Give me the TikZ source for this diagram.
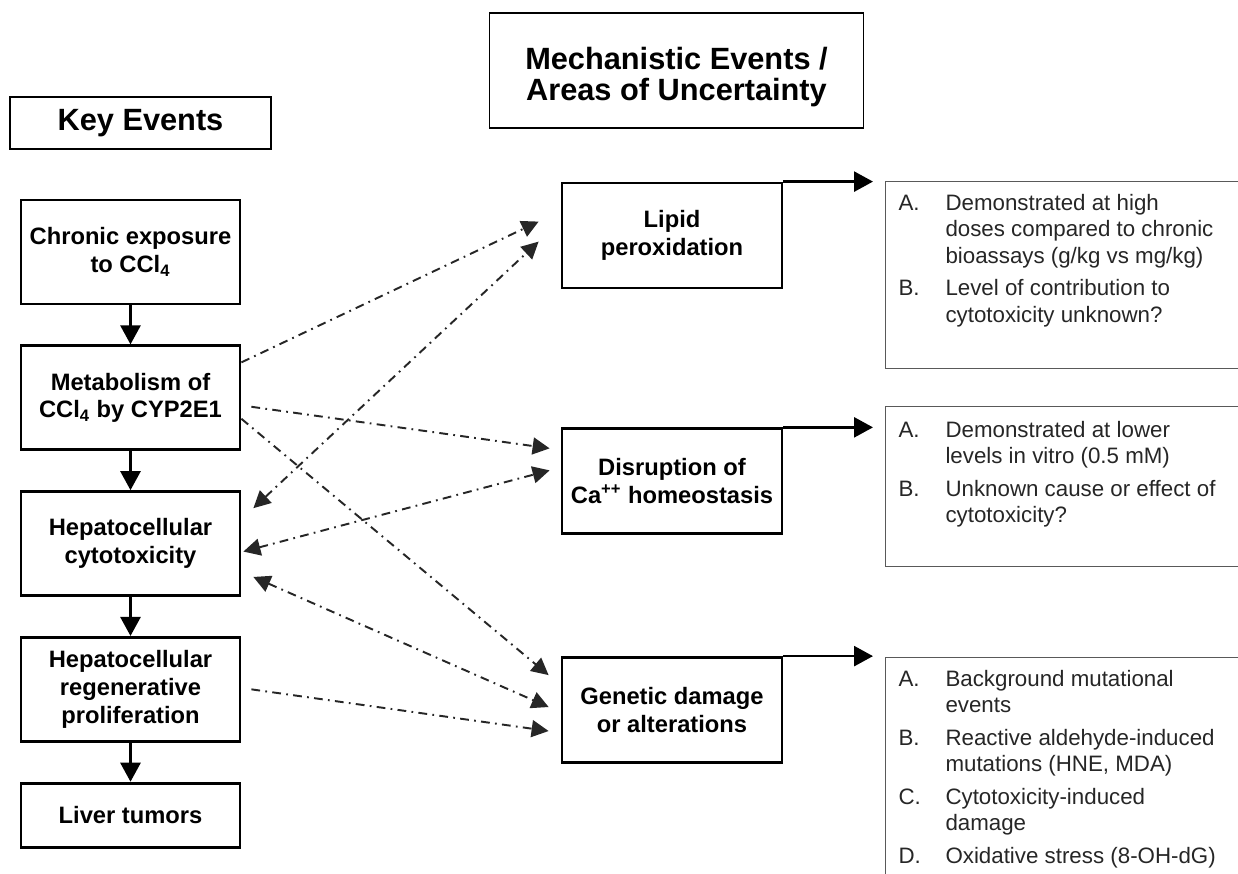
\documentclass[tikz,border=0pt]{standalone}
\usepackage{fontspec}
\setmainfont{Liberation Sans}
\usetikzlibrary{positioning, calc}
\usetikzlibrary{arrows.meta}
\tikzset{>={Triangle[width=4mm,length=3.8mm]}}

\begin{document}
\begin{tikzpicture}[x=0.02cm, y=-0.02cm, keynode/.style={rectangle, draw=black, line width=1.6pt, minimum width=4.38cm, minimum height=2.08cm, align=center, font=\fontsize{13.5}{15.8}\selectfont\bfseries}, mechnode/.style={keynode, minimum width=4.4cm, minimum height=2.1cm}, titlenode/.style={rectangle, draw=black, line width=0.6pt, align=center, font=\fontsize{17.5}{17.5}\selectfont\bfseries}, notenode/.style={rectangle, draw=black!65, line width=0.6pt, anchor=north west, inner xsep=0.26cm, inner ysep=0.2cm, font=\fontsize{12.7}{15.1}\selectfont, text=black!85}, flow/.style={->, line width=1.5pt}, link/.style={-{Triangle[width=3.4mm,length=3.4mm]}, draw=black!85, line width=1.1pt, dash pattern=on 5pt off 3pt on 1pt off 3pt}, linkboth/.style={link, {Triangle[width=3.4mm,length=3.4mm]}-{Triangle[width=3.4mm,length=3.4mm]}}]
    
    \clip (0,0) rectangle (1238,874);
    
    %Nodes
    \node[titlenode, minimum width=5.22cm, minimum height=1.04cm](keyev) at (140.5,123){Key Events};
    \node[titlenode, minimum width=7.5cm, minimum height=2.3cm](mech) at (676.5,70.5){\rule{0pt}{20pt}Mechanistic Events /\\Areas of Uncertainty};
    
    \node[keynode](chronic) at (130.5,252){Chronic exposure\\to CCl\textsubscript{4}};
    \node[keynode](metab)[below=0.78cm of chronic]{Metabolism of\\CCl\textsubscript{4} by CYP2E1};
    \node[keynode](cyto)[below=0.78cm of metab]{Hepatocellular\\cytotoxicity};
    \node[keynode](regen)[below=0.78cm of cyto]{Hepatocellular\\regenerative\\proliferation};
    \node[keynode, minimum height=1.28cm](tumor)[below=0.78cm of regen]{Liver tumors};
    
    \node[mechnode](lipid) at (672,235.5){Lipid\\peroxidation};
    \node[mechnode](disrupt)[below=2.76cm of lipid]{Disruption of\\Ca\textsuperscript{++} homeostasis};
    \node[mechnode](genetic)[below=2.42cm of disrupt]{Genetic damage\\or alterations};
    
    \node[notenode](unc1) at (885,181){\parbox[c][3.34cm][t]{6.98cm}{\begin{tabular}{@{}p{0.94cm}@{}l@{}}
        A. & Demonstrated at high\\
           & doses compared to chronic\\
           & bioassays (g/kg vs mg/kg)\\[3.4pt]
        B. & Level of contribution to\\
           & cytotoxicity unknown?
      \end{tabular}}};
    \node[notenode](unc2) at (885,406){\parbox[c][2.8cm][t]{6.98cm}{\vspace{1.1pt}\begin{tabular}{@{}p{0.94cm}@{}l@{}}
        A. & Demonstrated at lower\\
           & levels in vitro (0.5 mM)\\[3.4pt]
        B. & Unknown cause or effect of\\
           & cytotoxicity?
      \end{tabular}}};
    \node[notenode](unc3) at (885,657){\parbox[c][4.46cm][t]{6.98cm}{\begin{tabular}{@{}p{0.94cm}@{}l@{}}
        A. & Background mutational\\
           & events\\[3.4pt]
        B. & Reactive aldehyde-induced\\
           & mutations (HNE, MDA)\\[3.4pt]
        C. & Cytotoxicity-induced\\
           & damage\\[3.4pt]
        D. & Oxidative stress (8-OH-dG)
      \end{tabular}}};
    
    %Lines
    \draw[flow] (chronic) -- (metab);
    \draw[flow] (metab) -- (cyto);
    \draw[flow] (cyto) -- (regen);
    \draw[flow] (regen) -- (tumor);
    
    \draw[flow] (lipid.north east) -- ($(lipid.north east -| unc1.west)+(-12,0)$);
    \draw[flow] (disrupt.north east) -- ($(disrupt.north east -| unc2.west)+(-12,0)$);
    \draw[flow] (genetic.north east) -- ($(genetic.north east -| unc3.west)+(-12,0)$);
    
    \draw[link] ($(metab.north east)+(0,18)$) -- ($(lipid.north west)+(-22,40)$);
    \draw[linkboth] ($(cyto.north east)+(12,18)$) -- ($(lipid.north west)+(-22,60)$);
    \draw[link] ($(metab.east)+(10,9)$) -- ($(disrupt.north west)+(-11,21)$);
    \draw[linkboth] ($(cyto.east)+(2,8)$) -- ($(disrupt.north west)+(-11,43)$);
    \draw[link] ($(metab.east)+(0,21)$) -- ($(genetic.north west)+(-12,19)$);
    \draw[linkboth] ($(cyto.south east)+(12,-20)$) -- ($(genetic.west)+(-12,-3)$);
    \draw[link] ($(regen.east)+(10,0)$) -- ($(genetic.west)+(-12,21)$);
    
\end{tikzpicture}
\end{document}
